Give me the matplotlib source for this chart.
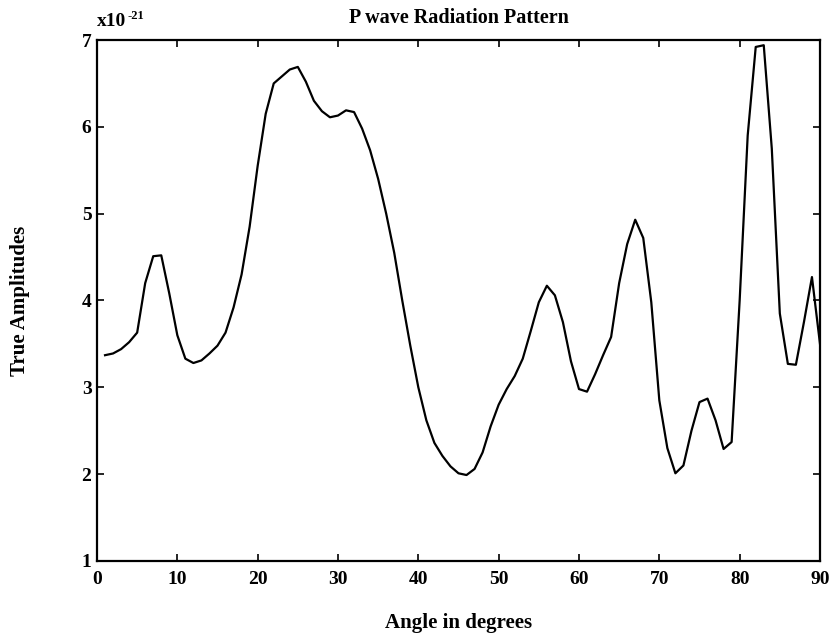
import numpy as np
import matplotlib
matplotlib.use("Agg")
import matplotlib.pyplot as plt

plt.rcParams['font.family'] = ['Liberation Serif', 'DejaVu Serif']
plt.rcParams['font.weight'] = 'bold'

# angle in degrees, 1..90 step 1
angles = list(range(1, 91))
# true amplitudes, in units of 1e-21
amps = [3.37, 3.39, 3.44, 3.52, 3.63, 4.20, 4.51, 4.52, 4.08, 3.60,
        3.33, 3.28, 3.31, 3.39, 3.48, 3.63, 3.92, 4.30, 4.85, 5.55,
        6.15, 6.50, 6.58, 6.66, 6.69, 6.52, 6.30, 6.18, 6.11, 6.13,
        6.19, 6.17, 5.98, 5.73, 5.40, 5.00, 4.55, 4.00, 3.48, 3.00,
        2.62, 2.36, 2.21, 2.09, 2.01, 1.99, 2.06, 2.25, 2.55, 2.80,
        2.98, 3.13, 3.33, 3.65, 3.98, 4.17, 4.06, 3.75, 3.30, 2.98,
        2.95, 3.15, 3.37, 3.58, 4.20, 4.65, 4.93, 4.72, 3.98, 2.85,
        2.30, 2.01, 2.10, 2.50, 2.83, 2.87, 2.62, 2.29, 2.37, 4.00,
        5.90, 6.92, 6.94, 5.75, 3.85, 3.27, 3.26, 3.75, 4.27, 3.50]

xticks = [0, 10, 20, 30, 40, 50, 60, 70, 80, 90]
yticks = [1, 2, 3, 4, 5, 6, 7]

fig = plt.figure(figsize=(8.34, 6.38), dpi=100)
ax = fig.add_axes([0.1163, 0.1207, 0.8669, 0.8166])

ax.plot(angles, amps, color='black', linewidth=1.6)

ax.set_xlim(0, 90)
ax.set_ylim(1, 7)
ax.set_xticks(xticks)
ax.set_yticks(yticks)
ax.tick_params(direction='in', length=5, width=1.2, top=True, right=True,
               labelsize=14)
ax.tick_params(axis='x', pad=7)
ax.tick_params(axis='y', pad=4)
for lab in ax.get_xticklabels() + ax.get_yticklabels():
    lab.set_fontweight('bold')
for sp in ax.spines.values():
    sp.set_linewidth(1.6)

ax.set_title("P wave Radiation Pattern", fontsize=14.5, fontweight='bold', pad=12)
ax.set_xlabel("Angle in degrees", fontsize=15, fontweight='bold', labelpad=18)
ax.set_ylabel("True Amplitudes", fontsize=15, fontweight='bold')
ax.yaxis.set_label_coords(-0.093, 0.5)

# exponent marker drawn above the y axis
fig.text(97 / 834, 1 - 26 / 638, "x10", fontsize=14, fontweight='bold',
         ha='left', va='baseline')
fig.text(127 / 834, 1 - 19 / 638, "-21", fontsize=9, fontweight='bold',
         ha='left', va='baseline')

plt.savefig("out.png", dpi=100)
